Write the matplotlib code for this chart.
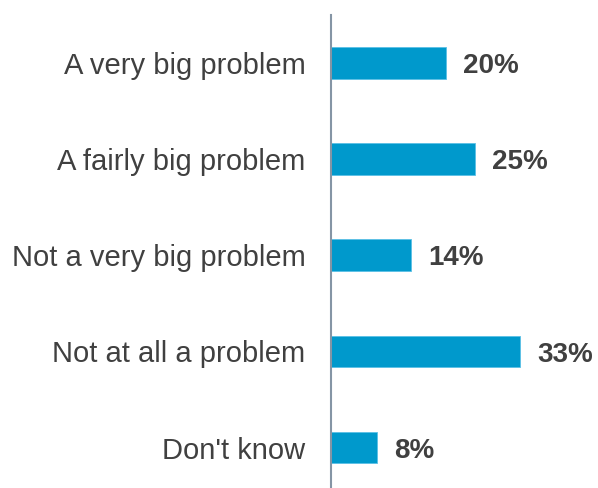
import matplotlib
matplotlib.use('Agg')
import matplotlib.pyplot as plt

categories = ['A very big problem', 'A fairly big problem', 'Not a very big problem',
              'Not at all a problem', "Don't know"]
values = [20, 25, 14, 33, 8]
value_labels = ['20%', '25%', '14%', '33%', '8%']

plt.rcParams['font.family'] = ['Liberation Sans', 'DejaVu Sans']

fig = plt.figure(figsize=(5.98, 4.88), dpi=100)
ax = fig.add_axes([331 / 598, 0, 267 / 598, 473 / 488])

pos = list(range(len(categories)))
ax.barh(pos, values, height=0.33, color='#0099CC', edgecolor='#5BC0E6', linewidth=0.6)

# percentages sit on the bar's baseline, a bit below centre
for y, v, lab in zip(pos, values, value_labels):
    ax.text(v + 3.0, y + 0.105, lab, va='baseline', ha='left', fontsize=20,
            fontweight='bold', color='#404040')

ax.set_yticks(pos)
ax.set_yticklabels(categories, fontsize=21, color='#404040')
ax.tick_params(axis='y', length=0, pad=18.5)
ax.set_xticks([])
ax.set_xlim(0, 267 / 5.74)
ax.set_ylim(4.42, -0.5)

for side in ['top', 'right', 'bottom']:
    ax.spines[side].set_visible(False)
ax.spines['left'].set_color('#8595A5')
ax.spines['left'].set_linewidth(1.5)

fig.savefig('out.png', dpi=100)
